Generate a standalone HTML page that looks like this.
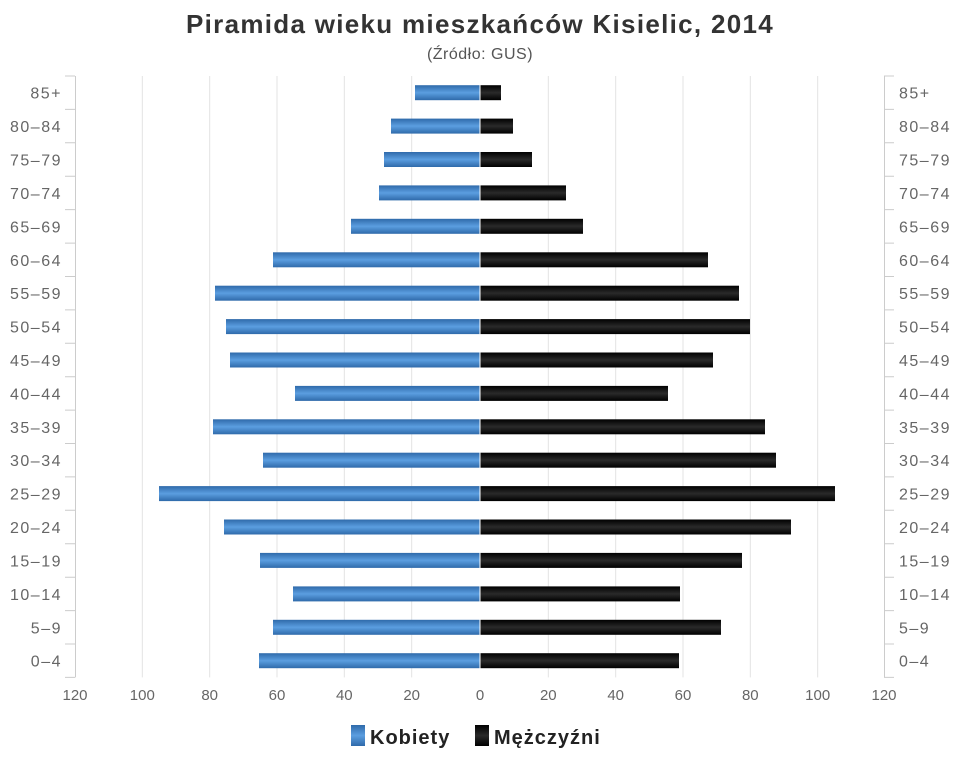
<!DOCTYPE html>
<html><head><meta charset="utf-8"><style>
body{margin:0;background:#fff;}
svg{display:block;font-family:"Liberation Sans","DejaVu Sans",sans-serif;}
</style></head><body>
<svg width="960" height="768" xmlns="http://www.w3.org/2000/svg">
<defs>
<linearGradient id="bl" x1="0" y1="0" x2="0" y2="1"><stop offset="0" stop-color="#2f6aaa"/><stop offset="0.5" stop-color="#5b9ee0"/><stop offset="1" stop-color="#2f6aaa"/></linearGradient>
<linearGradient id="bk" x1="0" y1="0" x2="0" y2="1"><stop offset="0" stop-color="#000"/><stop offset="0.5" stop-color="#2a2a2a"/><stop offset="1" stop-color="#000"/></linearGradient>
</defs>
<text x="480" y="33" text-anchor="middle" font-size="26" font-weight="bold" fill="#333" letter-spacing="1.3">Piramida wieku mieszkańców Kisielic, 2014</text>
<text x="480" y="59" text-anchor="middle" font-size="16" fill="#555" letter-spacing="0.5">(Źródło: GUS)</text>

<g stroke="#e3e3e3">
<line x1="142.3" y1="76" x2="142.3" y2="677.4"/><line x1="209.7" y1="76" x2="209.7" y2="677.4"/><line x1="277" y1="76" x2="277" y2="677.4"/><line x1="344.3" y1="76" x2="344.3" y2="677.4"/><line x1="411.7" y1="76" x2="411.7" y2="677.4"/><line x1="548.3" y1="76" x2="548.3" y2="677.4"/><line x1="615.7" y1="76" x2="615.7" y2="677.4"/><line x1="683" y1="76" x2="683" y2="677.4"/><line x1="750.3" y1="76" x2="750.3" y2="677.4"/><line x1="817.7" y1="76" x2="817.7" y2="677.4"/>
</g>
<g stroke="#ccc">
<line x1="75.5" y1="76" x2="75.5" y2="677.4"/><line x1="884.5" y1="76" x2="884.5" y2="677.4"/>
<path d="M65 76H75M65 109.4H75M65 142.8H75M65 176.2H75M65 209.6H75M65 243.1H75M65 276.5H75M65 309.9H75M65 343.3H75M65 376.7H75M65 410.1H75M65 443.5H75M65 476.9H75M65 510.3H75M65 543.7H75M65 577.2H75M65 610.6H75M65 644H75M65 677.4H75"/>
<path d="M884 76H894M884 109.4H894M884 142.8H894M884 176.2H894M884 209.6H894M884 243.1H894M884 276.5H894M884 309.9H894M884 343.3H894M884 376.7H894M884 410.1H894M884 443.5H894M884 476.9H894M884 510.3H894M884 543.7H894M884 577.2H894M884 610.6H894M884 644H894M884 677.4H894"/>
</g>
<g font-size="15" fill="#666" text-anchor="middle">
<text x="75" y="700">120</text><text x="142.3" y="700">100</text><text x="209.7" y="700">80</text><text x="277" y="700">60</text><text x="344.3" y="700">40</text><text x="411.7" y="700">20</text><text x="480" y="700">0</text><text x="548.3" y="700">20</text><text x="615.7" y="700">40</text><text x="683" y="700">60</text><text x="750.3" y="700">80</text><text x="817.7" y="700">100</text><text x="884" y="700">120</text>
</g>
<g font-size="16" fill="#666" text-anchor="end" letter-spacing="1.5">
<text x="62" y="98.7">85+</text><text x="62" y="132.1">80–84</text><text x="62" y="165.5">75–79</text><text x="62" y="198.9">70–74</text><text x="62" y="232.3">65–69</text><text x="62" y="265.8">60–64</text><text x="62" y="299.2">55–59</text><text x="62" y="332.6">50–54</text><text x="62" y="366">45–49</text><text x="62" y="399.4">40–44</text><text x="62" y="432.8">35–39</text><text x="62" y="466.2">30–34</text><text x="62" y="499.6">25–29</text><text x="62" y="533">20–24</text><text x="62" y="566.4">15–19</text><text x="62" y="599.9">10–14</text><text x="62" y="633.3">5–9</text><text x="62" y="666.7">0–4</text>
</g>
<g font-size="16" fill="#666" letter-spacing="1.5">
<text x="899" y="98.7">85+</text><text x="899" y="132.1">80–84</text><text x="899" y="165.5">75–79</text><text x="899" y="198.9">70–74</text><text x="899" y="232.3">65–69</text><text x="899" y="265.8">60–64</text><text x="899" y="299.2">55–59</text><text x="899" y="332.6">50–54</text><text x="899" y="366">45–49</text><text x="899" y="399.4">40–44</text><text x="899" y="432.8">35–39</text><text x="899" y="466.2">30–34</text><text x="899" y="499.6">25–29</text><text x="899" y="533">20–24</text><text x="899" y="566.4">15–19</text><text x="899" y="599.9">10–14</text><text x="899" y="633.3">5–9</text><text x="899" y="666.7">0–4</text>
</g>
<g fill="url(#bl)">
<rect x="415" y="85.2" width="65" height="15"/><rect x="391" y="118.6" width="89" height="15"/><rect x="384" y="152" width="96" height="15"/><rect x="379" y="185.4" width="101" height="15"/><rect x="351" y="218.8" width="129" height="15"/><rect x="273" y="252.3" width="207" height="15"/><rect x="215" y="285.7" width="265" height="15"/><rect x="226" y="319.1" width="254" height="15"/><rect x="230" y="352.5" width="250" height="15"/><rect x="295" y="385.9" width="185" height="15"/><rect x="213" y="419.3" width="267" height="15"/><rect x="263" y="452.7" width="217" height="15"/><rect x="159" y="486.1" width="321" height="15"/><rect x="224" y="519.5" width="256" height="15"/><rect x="260" y="552.9" width="220" height="15"/><rect x="293" y="586.4" width="187" height="15"/><rect x="273" y="619.8" width="207" height="15"/><rect x="259" y="653.2" width="221" height="15"/>
</g>
<g fill="url(#bk)">
<rect x="480" y="85.2" width="21" height="15"/><rect x="480" y="118.6" width="33" height="15"/><rect x="480" y="152" width="52" height="15"/><rect x="480" y="185.4" width="86" height="15"/><rect x="480" y="218.8" width="103" height="15"/><rect x="480" y="252.3" width="228" height="15"/><rect x="480" y="285.7" width="259" height="15"/><rect x="480" y="319.1" width="270" height="15"/><rect x="480" y="352.5" width="233" height="15"/><rect x="480" y="385.9" width="188" height="15"/><rect x="480" y="419.3" width="285" height="15"/><rect x="480" y="452.7" width="296" height="15"/><rect x="480" y="486.1" width="355" height="15"/><rect x="480" y="519.5" width="311" height="15"/><rect x="480" y="552.9" width="262" height="15"/><rect x="480" y="586.4" width="200" height="15"/><rect x="480" y="619.8" width="241" height="15"/><rect x="480" y="653.2" width="199" height="15"/>
</g>
<line x1="480" y1="80" x2="480" y2="672" stroke="#fff" stroke-width="1"/>

<rect x="351" y="725" width="14" height="21" fill="url(#bl)"/>
<text x="370" y="744" font-size="20" font-weight="bold" fill="#222" letter-spacing="1">Kobiety</text>
<rect x="475" y="725" width="14" height="21" fill="url(#bk)"/>
<text x="494" y="744" font-size="20" font-weight="bold" fill="#222" letter-spacing="1">Mężczyźni</text>
</svg>
</body></html>
